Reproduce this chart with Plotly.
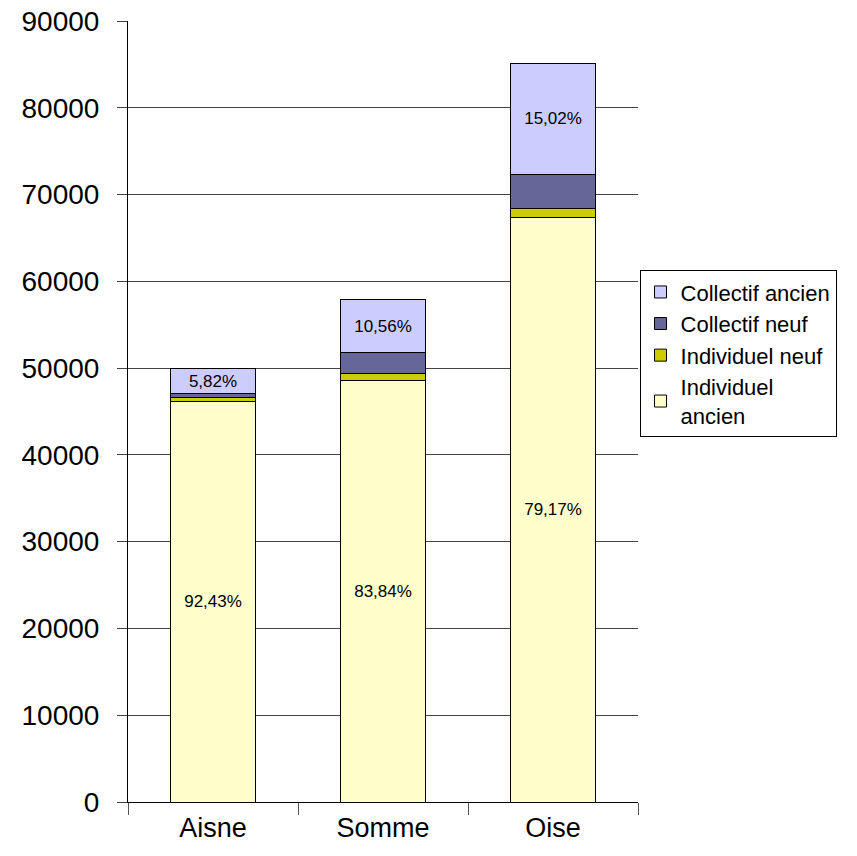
import plotly.graph_objects as go

# Départements and total number of dwellings
departements = ["Aisne", "Somme", "Oise"]
totaux = [49950, 57900, 85100]

# Share of each housing type in the total (%)
part_individuel_ancien = [92.43, 83.84, 79.17]
part_individuel_neuf = [0.80, 1.46, 1.16]
part_collectif_neuf = [0.95, 4.14, 4.65]
part_collectif_ancien = [5.82, 10.56, 15.02]

# Labels written on the bars
labels_individuel_ancien = ["92,43%", "83,84%", "79,17%"]
labels_collectif_ancien = ["5,82%", "10,56%", "15,02%"]

y_ticks = [0, 10000, 20000, 30000, 40000, 50000, 60000, 70000, 80000, 90000]
y_ticktext = [str(v) for v in y_ticks]


def valeurs(parts):
    return [t * p / 100 for t, p in zip(totaux, parts)]


font = "Liberation Sans, Arial, sans-serif"
ligne = dict(color="black", width=1)

fig = go.Figure()
fig.add_trace(go.Bar(
    name="Individuel<br>ancien", x=departements, y=valeurs(part_individuel_ancien),
    marker=dict(color="#FFFFCC", line=ligne),
    text=labels_individuel_ancien, textposition="inside", insidetextanchor="middle",
    textfont=dict(size=17, color="black", family=font), textangle=0,
))
fig.add_trace(go.Bar(
    name="Individuel neuf", x=departements, y=valeurs(part_individuel_neuf),
    marker=dict(color="#CCCC00", line=ligne),
))
fig.add_trace(go.Bar(
    name="Collectif neuf", x=departements, y=valeurs(part_collectif_neuf),
    marker=dict(color="#666699", line=ligne),
))
fig.add_trace(go.Bar(
    name="Collectif ancien", x=departements, y=valeurs(part_collectif_ancien),
    marker=dict(color="#CCCCFF", line=ligne),
    text=labels_collectif_ancien, textposition="inside", insidetextanchor="middle",
    textfont=dict(size=17, color="black", family=font), textangle=0,
))

fig.update_layout(
    barmode="stack",
    bargap=0.5,
    width=857, height=856,
    margin=dict(l=128, r=219, t=21, b=54, autoexpand=False),
    plot_bgcolor="white", paper_bgcolor="white",
    font=dict(family=font, color="black"),
    legend=dict(
        x=1.003, xanchor="left", y=0.681, yanchor="top",
        traceorder="reversed",
        bordercolor="black", borderwidth=1,
        font=dict(size=22, family=font),
        itemwidth=30,
    ),
    xaxis=dict(
        showline=True, linecolor="black", linewidth=1,
        ticks="outside", tickson="boundaries", ticklen=12, tickcolor="#555555",
        tickfont=dict(size=27, family=font),
        ticklabelstandoff=2,
        automargin=False,
    ),
    yaxis=dict(
        range=[0, 90000], tickvals=y_ticks, ticktext=y_ticktext,
        showline=True, linecolor="black", linewidth=1,
        showgrid=True, gridcolor="#444444", gridwidth=1,
        zeroline=False,
        ticks="outside", ticklen=10, tickcolor="#444444",
        tickfont=dict(size=28, family=font),
        ticklabelstandoff=12,
        automargin=False,
    ),
)

fig.write_html("out.html")
